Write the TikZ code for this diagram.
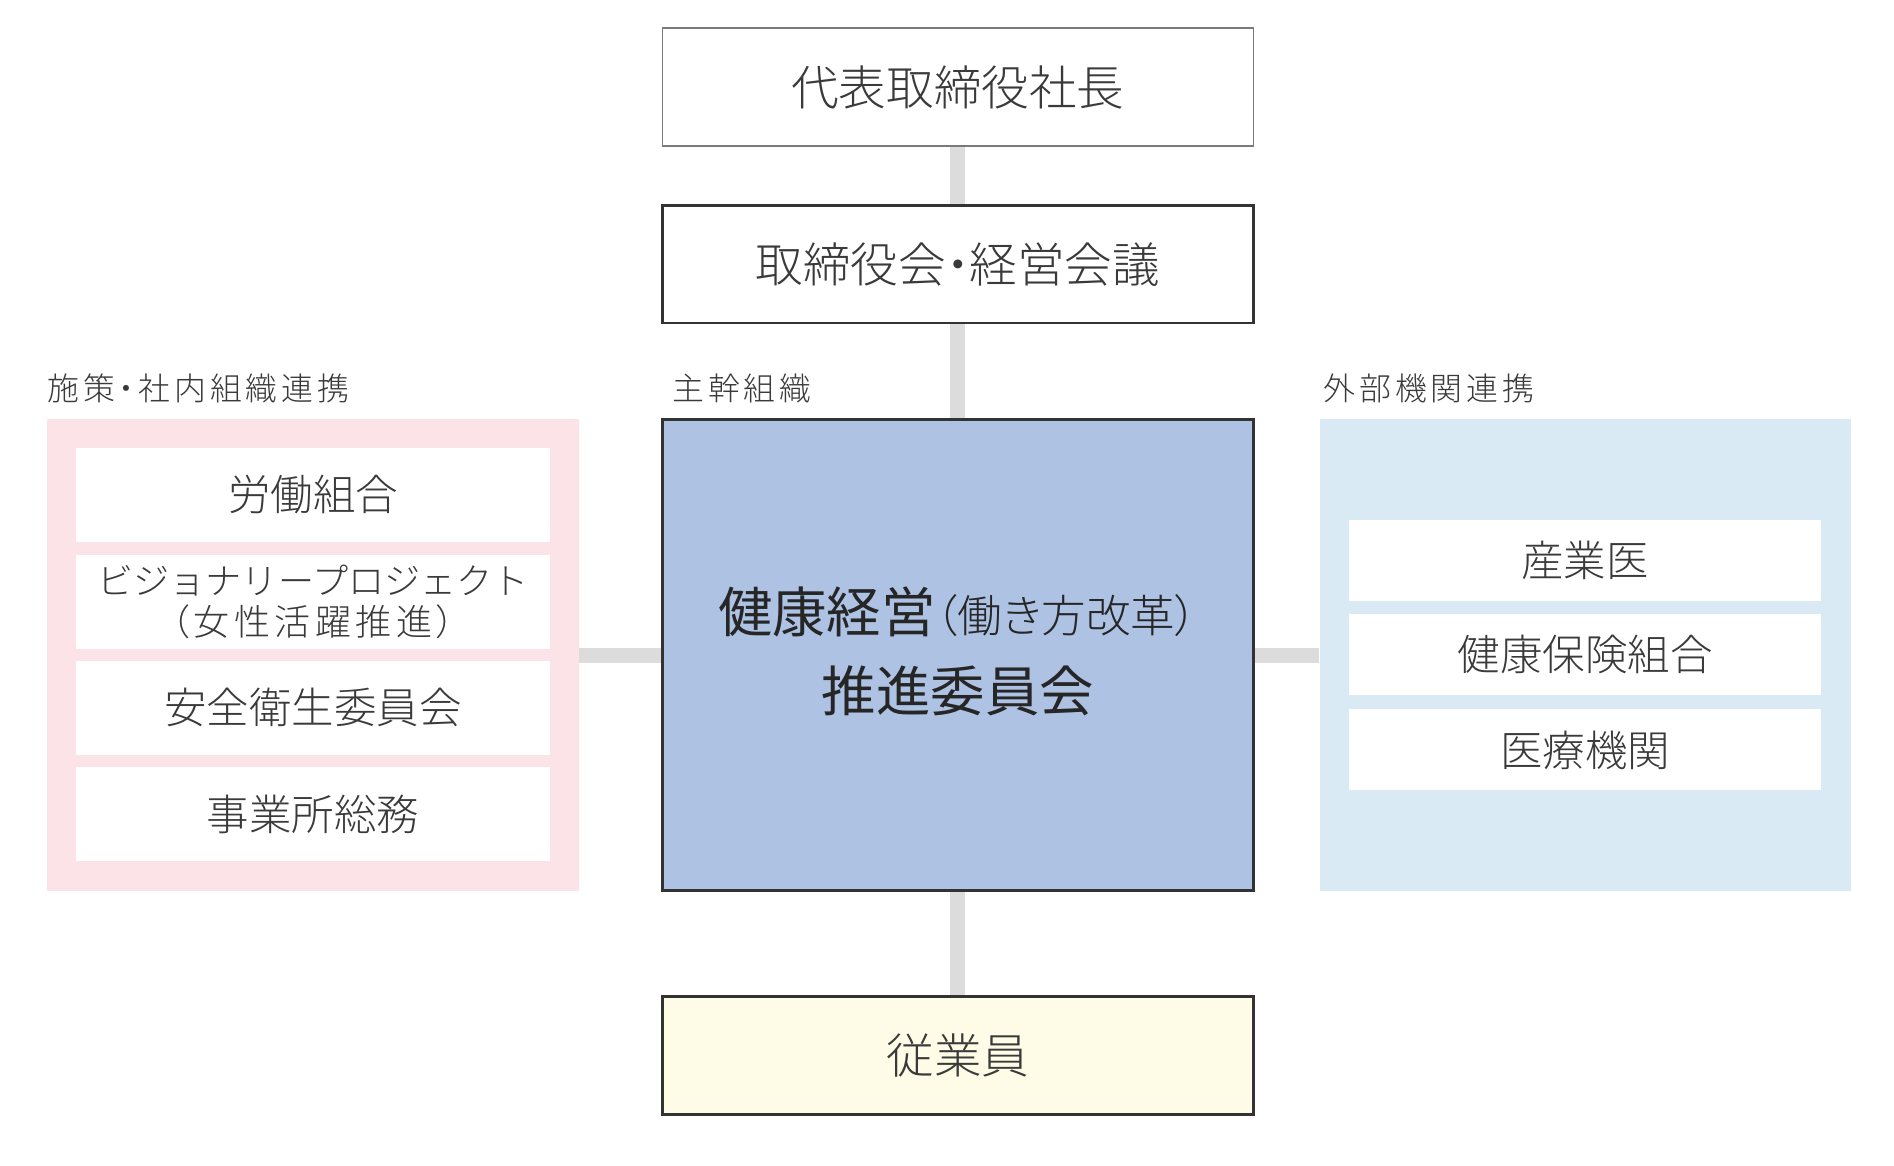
\documentclass[tikz,border=0pt]{standalone}
\usepackage{fontspec}
\usetikzlibrary{backgrounds}
\setmainfont{Noto Sans CJK JP}
\newfontfamily\lightfont{Noto Sans CJK JP Light}
\newfontfamily\paltfont[RawFeature=+palt]{Noto Sans CJK JP Light}
\newfontfamily\labelfont[LetterSpace=12,RawFeature=+palt]{Noto Sans CJK JP Light}
\definecolor{linkgray}{HTML}{DCDCDC}
\definecolor{boxline}{HTML}{333333}
\definecolor{topline}{HTML}{7A7A7A}
\definecolor{mainblue}{HTML}{AEC3E4}
\definecolor{panelpink}{HTML}{FBE3E7}
\definecolor{panelblue}{HTML}{D9EAF5}
\definecolor{staffyellow}{HTML}{FEFCE6}
\definecolor{textdark}{HTML}{3A3A3A}
\begin{document}
\begin{tikzpicture}[every node/.style={rectangle,inner sep=0pt,text=textdark},
	chain/.style={draw=boxline,line width=1.3pt,minimum width=9.78cm,minimum height=1.95cm,font=\lightfont\fontsize{22.4}{26}\selectfont},
	member/.style={fill=white,minimum width=7.84cm,font=\lightfont\fontsize{20}{24}\selectfont},
	panel/.style={minimum width=8.8cm,minimum height=7.8cm},
	caption/.style={anchor=west,font=\labelfont\fontsize{15}{18}\selectfont},
	link/.style={draw=linkgray,line width=7pt}]
		\useasboundingbox (0,0) rectangle (31.34,-19.29);
		\node[chain,draw=topline,line width=0.6pt,fill=white] (president) at (15.85,-1.44) {代表取締役社長};
		\node[chain,fill=white,font=\paltfont\fontsize{22.4}{26}\selectfont] (board) at (15.85,-4.37) {取締役会・経営会議};
		\node[chain,fill=mainblue,minimum height=7.8cm,align=center,text=black!85,font=\fontsize{25.6}{37}\selectfont] (committee) at (15.85,-10.84) {健康経営{\paltfont\fontsize{21}{37}\selectfont （働き方改革）}\\推進委員会\rule[-0.2cm]{0pt}{0pt}};
		\node[chain,fill=staffyellow] (staff) at (15.85,-17.47) {従業員};
		
		\node[panel,fill=panelpink] (internal) at (5.18,-10.84) {};
		\node[panel,fill=panelblue,minimum width=8.78cm] (external) at (26.23,-10.84) {};
		\node[caption] (internal-label) at (0.78,-6.42) {施策・社内組織連携};
		\node[caption] (main-label) at (11.12,-6.42) {主幹組織};
		\node[caption] (external-label) at (21.9,-6.42) {外部機関連携};
		
		\node[member,minimum height=1.55cm] (union) at (5.18,-8.19) {労働組合};
		\node[member,minimum height=1.55cm,align=center,font=\lightfont\fontsize{17}{19.5}\selectfont] (vision) at (5.18,-9.96) {ビジョナリープロジェクト\\{\labelfont （女性活躍推進）}};
		\node[member,minimum height=1.55cm] (safety) at (5.18,-11.71) {安全衛生委員会};
		\node[member,minimum height=1.55cm] (affairs) at (5.18,-13.47) {事業所総務};
		\node[member,minimum width=7.82cm,minimum height=1.34cm] (doctor) at (26.23,-9.27) {産業医};
		\node[member,minimum width=7.82cm,minimum height=1.34cm] (insurance) at (26.23,-10.83) {健康保険組合};
		\node[member,minimum width=7.82cm,minimum height=1.34cm] (clinic) at (26.23,-12.41) {医療機関};
		
		\begin{scope}[on background layer]
		\draw[link] (president) -- (board);
		\draw[link] (board) -- (committee);
		\draw[link] (committee) -- (staff);
		\draw[link] (internal) -- (committee);
		\draw[link] (committee) -- (external);
		\end{scope}
	\end{tikzpicture}
\end{document}
